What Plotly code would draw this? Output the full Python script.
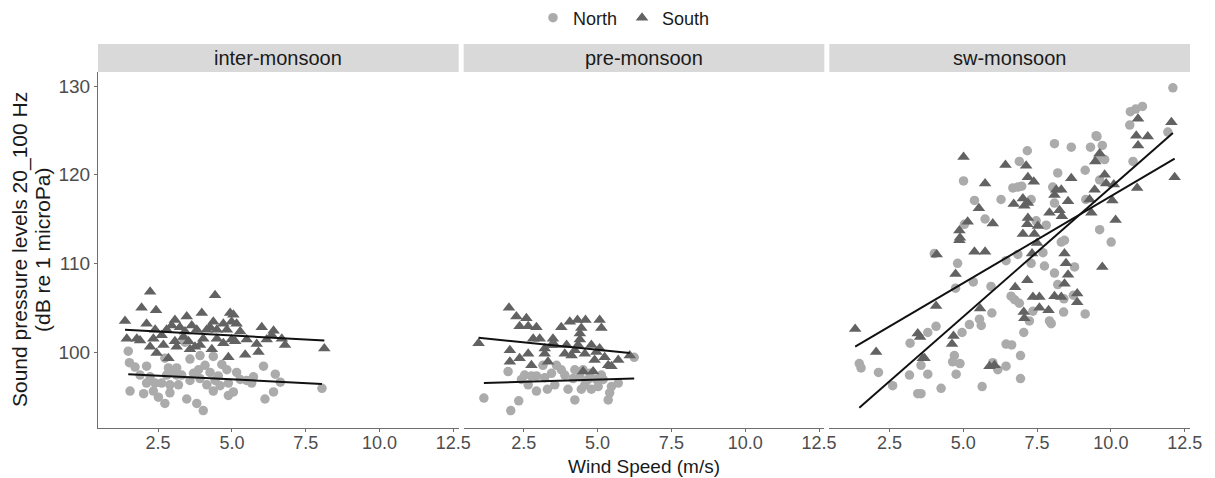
import plotly.graph_objects as go
from plotly.subplots import make_subplots

seasons = ["inter-monsoon", "pre-monsoon", "sw-monsoon"]
groups = ["North", "South"]
x_tickvals = [2.5, 5.0, 7.5, 10.0, 12.5]
x_ticktext = ["2.5", "5.0", "7.5", "10.0", "12.5"]
y_tickvals = [100, 110, 120, 130]

# ---------------- inter-monsoon ----------------
inter_north_x = [1.49, 1.53, 1.72, 2.11, 1.55, 2.01, 2.34, 2.51, 2.73, 2.11, 2.40, 2.85, 3.13, 2.90, 2.90,
                 3.30, 3.47, 3.58, 3.81, 4.03, 3.87, 3.92, 4.26, 4.43, 4.37, 4.60, 4.88, 5.05, 4.83, 5.16,
                 5.50, 6.07, 6.47, 6.64, 6.12, 6.41, 8.05, 3.36, 3.41, 3.92, 4.37, 4.66, 2.73, 3.13, 3.58,
                 3.19, 2.62, 2.23, 1.89, 4.15, 4.54, 5.28, 5.73, 5.67, 4.88, 3.02, 3.70, 4.09, 2.79]
inter_north_y = [100.1, 98.8, 98.3, 98.4, 95.6, 95.3, 95.6, 94.9, 94.2, 96.5, 96.5, 98.2, 98.2, 96.3, 95.4,
                 97.4, 94.7, 99.2, 94.2, 93.4, 98.0, 97.0, 97.7, 96.8, 95.6, 96.2, 95.1, 95.5, 98.0, 97.7,
                 96.8, 98.4, 97.5, 96.6, 94.7, 95.5, 95.9, 101.5, 101.1, 99.6, 99.5, 98.6, 99.3, 97.4, 96.8,
                 96.3, 96.5, 97.2, 97.4, 96.3, 97.3, 96.9, 97.2, 96.5, 96.5, 97.8, 97.6, 98.5, 97.4]
inter_south_x = [2.23, 4.43, 1.94, 2.43, 1.38, 2.11, 3.07, 3.47, 3.98, 4.94, 5.05, 4.37, 5.16, 6.01, 6.41,
                 6.69, 6.80, 5.84, 5.45, 4.88, 5.90, 8.13, 4.32, 3.58, 2.85, 2.45, 2.23, 1.44, 1.78, 1.89,
                 2.34, 2.62, 2.79, 2.96, 3.24, 3.64, 3.81, 4.15, 4.49, 4.71, 4.83, 5.28, 5.50, 4.99, 4.49,
                 4.03, 3.36, 3.07, 2.68, 3.13, 3.92, 4.71, 5.11, 6.18, 6.35, 2.40, 3.41, 4.26, 4.99, 3.53, 3.75]
inter_south_y = [106.8, 106.4, 105.0, 104.7, 103.5, 103.2, 103.6, 104.0, 104.4, 104.4, 104.2, 103.4, 103.2, 102.8, 102.4,
                 101.5, 100.8, 100.9, 99.7, 99.4, 100.0, 100.4, 100.3, 100.3, 99.3, 99.9, 100.6, 101.5, 101.5, 101.3,
                 101.5, 101.9, 102.5, 103.0, 102.8, 103.0, 102.5, 102.5, 102.5, 103.2, 102.5, 102.3, 101.4, 101.4, 101.5,
                 101.5, 101.7, 101.2, 100.8, 100.6, 100.8, 101.0, 101.2, 101.4, 101.9, 102.5, 102.3, 102.8, 103.4, 101.2, 100.6]

# ---------------- pre-monsoon ----------------
pre_north_x = [1.15, 2.06, 2.33, 1.97, 2.65, 2.93, 3.30, 2.53, 2.93, 3.44, 3.61, 3.77, 4.00, 4.17, 4.23,
               4.51, 4.68, 4.79, 5.02, 5.13, 5.41, 5.36, 5.47, 5.70, 6.24, 4.40, 4.57, 4.96, 4.45, 2.76,
               3.21, 3.55, 3.15, 4.74, 5.19, 4.23, 3.89, 2.42]
pre_north_y = [94.8, 93.4, 94.5, 97.8, 96.3, 95.6, 95.8, 97.4, 97.3, 97.6, 98.5, 98.0, 95.8, 97.0, 94.6,
               98.0, 96.9, 95.8, 96.1, 97.4, 95.4, 94.6, 96.1, 96.5, 99.4, 97.2, 96.3, 96.9, 95.8, 97.3,
               97.1, 96.3, 98.5, 97.6, 96.9, 98.0, 97.4, 96.9]
pre_south_x = [0.97, 2.00, 2.25, 2.59, 2.36, 2.65, 2.93, 2.82, 3.04, 3.49, 3.77, 4.06, 4.32, 4.59, 5.07,
               5.13, 4.45, 4.40, 4.34, 3.95, 3.55, 3.21, 2.03, 2.03, 2.36, 2.65, 2.76, 3.21, 3.32, 3.89,
               4.12, 4.57, 4.96, 5.24, 5.36, 5.70, 5.47, 6.09, 4.51, 4.85, 4.79, 5.07, 4.40, 3.44, 4.23, 4.90]
pre_south_y = [101.0, 105.0, 104.0, 103.8, 102.9, 102.9, 102.8, 101.5, 101.5, 101.5, 102.8, 103.4, 103.6, 103.6, 103.6,
               102.7, 102.7, 101.4, 100.8, 100.8, 100.8, 100.4, 100.2, 98.9, 99.3, 99.8, 98.5, 99.8, 98.9, 99.8,
               99.6, 99.8, 100.0, 99.4, 98.5, 99.1, 98.4, 99.6, 97.8, 97.8, 100.8, 100.4, 102.1, 100.8, 100.2, 99.1]

# ---------------- sw-monsoon ----------------
sw_north_x = [1.48, 1.54, 2.13, 2.61, 3.20, 3.18, 3.46, 3.57, 3.57, 3.80, 3.80, 4.08, 4.25, 4.64, 4.70,
              4.89, 4.76, 4.96, 5.21, 5.55, 5.61, 5.64, 4.81, 4.02, 5.01, 5.38, 5.74, 5.04, 5.34, 4.74,
              9.50, 8.09, 8.66, 9.31, 7.17, 6.90, 8.20, 6.68, 6.85, 6.98, 9.13, 6.28, 7.30, 8.03, 8.09,
              9.15, 7.47, 7.81, 8.32, 8.43, 7.70, 8.77, 8.09, 8.20, 8.41, 7.75, 6.85, 6.45, 6.74, 6.90,
              7.24, 7.36, 7.92, 7.98, 8.40, 9.13, 7.05, 6.45, 6.64, 6.94, 6.94, 6.45, 5.97, 6.00, 6.17,
              5.94, 7.30, 8.73, 6.62,
              12.10, 11.07, 10.84, 10.66, 10.64, 11.93, 9.53, 9.71, 9.56, 9.79, 10.75, 9.62, 9.62, 10.01]
sw_north_y = [98.7, 98.2, 97.7, 96.2, 101.0, 97.4, 95.3, 95.3, 98.5, 97.5, 102.2, 102.9, 95.9, 98.9, 99.6,
              98.7, 97.5, 102.2, 103.1, 103.7, 103.0, 96.1, 110.0, 111.1, 119.3, 117.1, 115.0, 114.4, 107.9, 107.2,
              124.4, 123.5, 123.1, 123.1, 122.7, 121.5, 120.2, 118.5, 118.6, 118.7, 120.5, 117.2, 117.2, 118.6, 116.8,
              117.2, 114.8, 114.3, 112.4, 112.6, 111.2, 109.6, 108.9, 107.6, 106.0, 109.7, 111.0, 110.3, 105.9, 105.5,
              103.5, 104.6, 103.5, 103.2, 104.5, 104.3, 102.2, 100.9, 100.8, 99.6, 97.0, 98.4, 104.4, 98.8, 98.0,
              107.4, 110.0, 106.4, 106.3,
              129.8, 127.7, 127.4, 127.1, 125.6, 124.8, 124.3, 123.3, 121.8, 121.7, 121.5, 119.4, 113.8, 112.4]
sw_south_x = [1.34, 2.05, 3.46, 3.54, 3.63, 3.69, 4.08, 4.10, 4.62, 4.67, 4.74, 4.87, 4.89, 4.87, 5.15,
              5.38, 5.74, 5.53, 5.74, 5.57, 5.01,
              6.43, 7.13, 7.19, 7.39, 6.71, 7.02, 7.07, 7.19, 6.00, 7.19, 7.17, 7.53, 7.02, 7.41,
              7.50, 7.33, 8.66, 8.15, 8.32, 8.09, 7.92, 8.26, 8.55, 8.34, 9.45, 9.28, 9.34, 8.43,
              8.48, 8.55, 8.43, 7.17, 6.76, 7.36, 7.58, 8.09, 8.32, 8.86, 8.86, 7.58, 7.89, 7.05,
              7.07, 5.89, 6.06,
              10.92, 12.05, 10.86, 11.25, 10.92, 9.62, 9.47, 9.79, 9.84, 10.10, 10.89, 12.16, 10.05, 10.16, 9.71]
sw_south_y = [102.6, 100.0, 102.1, 101.7, 99.3, 99.3, 105.2, 111.0, 100.9, 101.8, 108.8, 113.7, 112.9, 112.6, 114.7,
              111.3, 111.3, 116.2, 119.0, 104.9, 122.0,
              121.1, 121.0, 119.7, 119.2, 116.7, 117.3, 116.5, 116.8, 114.5, 115.1, 114.4, 114.2, 113.3, 113.3,
              112.3, 111.1, 119.6, 118.3, 118.3, 117.7, 115.7, 116.0, 117.0, 115.3, 118.3, 117.2, 115.7, 111.1,
              110.0, 108.7, 107.7, 108.1, 107.3, 106.2, 106.2, 106.3, 106.2, 106.6, 105.6, 105.0, 104.7, 104.5,
              103.8, 98.4, 98.5,
              126.3, 125.9, 124.4, 124.3, 123.3, 122.4, 121.5, 120.0, 119.0, 118.9, 118.5, 119.7, 117.1, 114.9, 109.6]

# fitted (lm) line values at the start and end of each group's wind range
inter_north_fit_y = [97.5, 96.4]
inter_south_fit_y = [102.5, 101.3]
pre_north_fit_y = [96.5, 97.0]
pre_south_fit_y = [101.6, 99.9]
sw_north_fit_y = [93.7, 124.7]
sw_south_fit_y = [100.6, 121.8]

data = {
    "inter-monsoon": [(inter_north_x, inter_north_y, inter_north_fit_y),
                      (inter_south_x, inter_south_y, inter_south_fit_y)],
    "pre-monsoon": [(pre_north_x, pre_north_y, pre_north_fit_y),
                    (pre_south_x, pre_south_y, pre_south_fit_y)],
    "sw-monsoon": [(sw_north_x, sw_north_y, sw_north_fit_y),
                   (sw_south_x, sw_south_y, sw_south_fit_y)],
}

colors = {"North": "#ABABAB", "South": "#626262"}
symbols = {"North": "circle", "South": "triangle-up"}
sizes = {"North": 9.5, "South": 11}

W, H = 1215, 478
ML, MR, MT, MB = 98, 25, 72, 50
PW = W - ML - MR
PH = H - MT - MB

fig = make_subplots(rows=1, cols=3, shared_yaxes=True, horizontal_spacing=5 / PW)

for ci, season in enumerate(seasons):
    for gi, grp in enumerate(groups):
        xs, ys, fy = data[season][gi]
        fig.add_trace(go.Scatter(
            x=xs, y=ys, mode="markers", name=grp, legendgroup=grp,
            showlegend=(ci == 0),
            marker=dict(symbol=symbols[grp], color=colors[grp], size=sizes[grp], line=dict(width=0)),
            hoverinfo="skip"), row=1, col=ci + 1)
    for gi, grp in enumerate(groups):
        xs, ys, fy = data[season][gi]
        fig.add_trace(go.Scatter(
            x=[min(xs), max(xs)], y=fy, mode="lines", showlegend=False,
            line=dict(color="#111111", width=2), hoverinfo="skip"), row=1, col=ci + 1)

FONT = "Liberation Sans, Arial, sans-serif"
axis_font = dict(family=FONT, size=19, color="#4D4D4D")
xfont = dict(family=FONT, size=18, color="#4D4D4D")

for ci in range(3):
    fig.update_xaxes(range=[0.465, 12.68], tickvals=x_tickvals, ticktext=x_ticktext,
                     showgrid=False, zeroline=False, showline=True, linecolor="#6E6E6E", linewidth=1.2,
                     ticks="outside", ticklen=3, tickcolor="#6E6E6E", tickfont=xfont,
                     ticklabelstandoff=-5, row=1, col=ci + 1)
    fig.update_yaxes(range=[91.43, 131.58], tickvals=y_tickvals, showgrid=False, zeroline=False,
                     row=1, col=ci + 1)

fig.update_yaxes(showline=True, linecolor="#6E6E6E", linewidth=1.2, ticks="outside", ticklen=3,
                 tickcolor="#6E6E6E", tickfont=axis_font, row=1, col=1)
fig.update_yaxes(showline=False, ticks="", showticklabels=False, row=1, col=2)
fig.update_yaxes(showline=False, ticks="", showticklabels=False, row=1, col=3)

# facet strips
strip_y0 = 1.0
strip_y1 = (H - MB - 44) / PH
for ci, season in enumerate(seasons):
    xr = "x domain" if ci == 0 else f"x{ci + 1} domain"
    fig.add_shape(type="rect", xref=xr, yref="paper", x0=0, x1=1, y0=strip_y0, y1=strip_y1,
                  fillcolor="#D9D9D9", line=dict(width=0), layer="below")
    fig.add_annotation(xref=xr, yref="paper", x=0.5, y=(strip_y0 + strip_y1) / 2, text=season,
                       showarrow=False, font=dict(family=FONT, size=20, color="#1A1A1A"),
                       xanchor="center", yanchor="middle")

# axis titles
fig.add_annotation(xref="paper", yref="paper", x=0.5, y=-(466 - (H - MB)) / PH, text="Wind Speed (m/s)",
                   showarrow=False, xanchor="center", yanchor="middle",
                   font=dict(family=FONT, size=19, color="#1A1A1A"))
for txt, px in [("Sound pressure levels 20_100 Hz", 20), ("(dB re 1 microPa)", 42)]:
    fig.add_annotation(xref="paper", yref="paper", x=(px - ML) / PW, y=0.5, text=txt,
                       textangle=-90, showarrow=False, xanchor="center", yanchor="middle",
                       font=dict(family=FONT, size=21, color="#1A1A1A"))

fig.update_layout(
    width=W, height=H, autosize=False,
    margin=dict(l=ML, r=MR, t=MT, b=MB, autoexpand=False),
    paper_bgcolor="white", plot_bgcolor="white",
    showlegend=True,
    legend=dict(orientation="h", x=(624 - ML) / PW, xanchor="center", y=(H - MB - 18) / PH, yanchor="middle",
                font=dict(family=FONT, size=18, color="#1A1A1A"),
                itemwidth=30, bgcolor="rgba(0,0,0,0)", tracegroupgap=0),
)

fig.write_html("out.html")
